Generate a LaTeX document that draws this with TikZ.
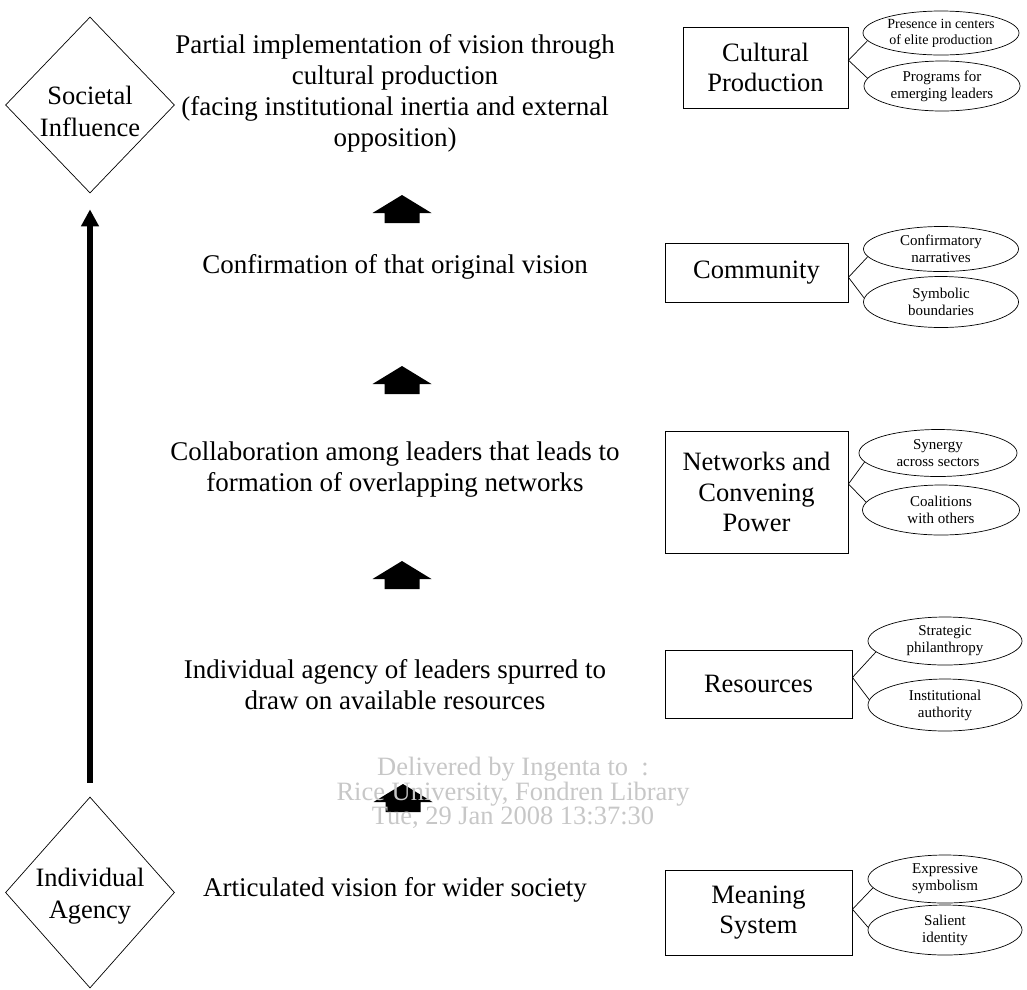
\documentclass[tikz,border=0pt]{standalone}
\usepackage{fontspec}
\setmainfont{Liberation Serif}
\usetikzlibrary{shapes.geometric,arrows.meta}
\tikzset{
  mainbox/.style={draw, line width=0.9pt, inner sep=0pt, align=center, font=\fontsize{26.5}{30.5}\selectfont},
  oval/.style={draw, ellipse, line width=0.7pt, inner sep=0pt, align=center, font=\fontsize{15}{17}\selectfont},
  dmd/.style={draw, diamond, line width=0.7pt, inner sep=0pt},
  dmdtext/.style={align=center, font=\fontsize{26.5}{32}\selectfont},
  maintext/.style={align=center, font=\fontsize{27}{31}\selectfont},
  link/.style={line width=0.7pt},
  blockarrow/.pic={\fill (0,0) -- (29.5,18) -- (17.5,18) -- (17.5,28) -- (-17.5,28) -- (-17.5,18) -- (-29.5,18) -- cycle;},
  watermark/.style={align=center, text=black!22, font=\fontsize{26.5}{24}\selectfont}
}
\begin{document}
\begin{tikzpicture}[x=1pt,y=-1pt]
\useasboundingbox (0,0) rectangle (1027,989);

% diamonds
\node[dmd, minimum width=169pt, minimum height=176pt] (soc) at (90,105) {};
\node[dmdtext] (soctext) at (90,111) {Societal\\Influence};
\node[dmd, minimum width=169pt, minimum height=191pt] (ind) at (90,892.5) {};
\node[dmdtext] (indtext) at (90,896.5) {Individual\\Agency};
\draw[line width=6pt, -{Triangle[width=17pt,length=17pt]}, shorten <=14pt, shorten >=16pt] (ind.north) -- (soc.south);

% main texts
\node[maintext] (t1) at (395,93) {Partial implementation of vision through\\cultural production\\(facing institutional inertia and external\\opposition)};
\node[maintext] (t2) at (395,266.5) {Confirmation of that original vision};
\node[maintext] (t3) at (395,469.5) {Collaboration among leaders that leads to\\formation of overlapping networks};
\node[maintext] (t4) at (395,684.5) {Individual agency of leaders spurred to\\draw on available resources};
\node[maintext] (t5) at (395,890) {Articulated vision for wider society};

% block arrows
\pic at (402,195) {blockarrow};
\pic at (402,366) {blockarrow};
\pic at (402,561) {blockarrow};
\pic at (403,784) {blockarrow};

% right boxes
\node[mainbox, minimum width=165pt, minimum height=81pt] (cp) at (765.5,67.5) {Cultural\\Production};
\node[mainbox, minimum width=183pt, minimum height=59pt] (com) at (756.5,272.5) {Community};
\node[mainbox, minimum width=183pt, minimum height=122pt] (net) at (756.5,492) {Networks and\\Convening\\Power};
\node[mainbox, minimum width=187pt, minimum height=68pt] (res) at (758.5,684) {Resources};
\node[mainbox, minimum width=187pt, minimum height=85pt] (mea) at (758.5,912.5) {Meaning\\System};

% ovals
\node[oval, minimum width=156pt, minimum height=44pt, font=\fontsize{14}{16}\selectfont] (cp1) at (941,33) {Presence in centers\\of elite production};
\node[oval, minimum width=156pt, minimum height=50pt] (cp2) at (942,86) {Programs for\\emerging leaders};
\node[oval, minimum width=155pt, minimum height=45pt] (com1) at (941,249) {Confirmatory\\narratives};
\node[oval, minimum width=155pt, minimum height=51pt] (com2) at (941,302) {Symbolic\\boundaries};
\node[oval, minimum width=158pt, minimum height=47pt] (net1) at (938,453) {Synergy\\across sectors};
\node[oval, minimum width=157pt, minimum height=50pt] (net2) at (941,510) {Coalitions\\with others};
\node[oval, minimum width=154pt, minimum height=48pt] (res1) at (945,641) {Strategic\\philanthropy};
\node[oval, minimum width=154pt, minimum height=52pt] (res2) at (945,705) {Institutional\\authority};
\node[oval, minimum width=154pt, minimum height=48pt] (mea1) at (945,879) {Expressive\\symbolism};
\node[oval, minimum width=154pt, minimum height=50pt] (mea2) at (945,930) {Salient\\identity};

% connectors
\draw[link] (cp1.186) -- (cp.5) -- (cp2.174);
\draw[link] (com1.186) -- (com.-3) -- (com2.177);
\draw[link] (net1.187) -- (net.5.6) -- (net2.174);
\draw[link] (res1.189) -- (res.4.3) -- (res2.176);
\draw[link] (mea1.187) -- (mea.2) -- (mea2.178.5);

% watermark
\node[watermark] (wm) at (513,793) {Delivered by Ingenta to\ \ :\\Rice University, Fondren Library\\Tue, 29 Jan 2008 13:37:30};
\end{tikzpicture}
\end{document}
